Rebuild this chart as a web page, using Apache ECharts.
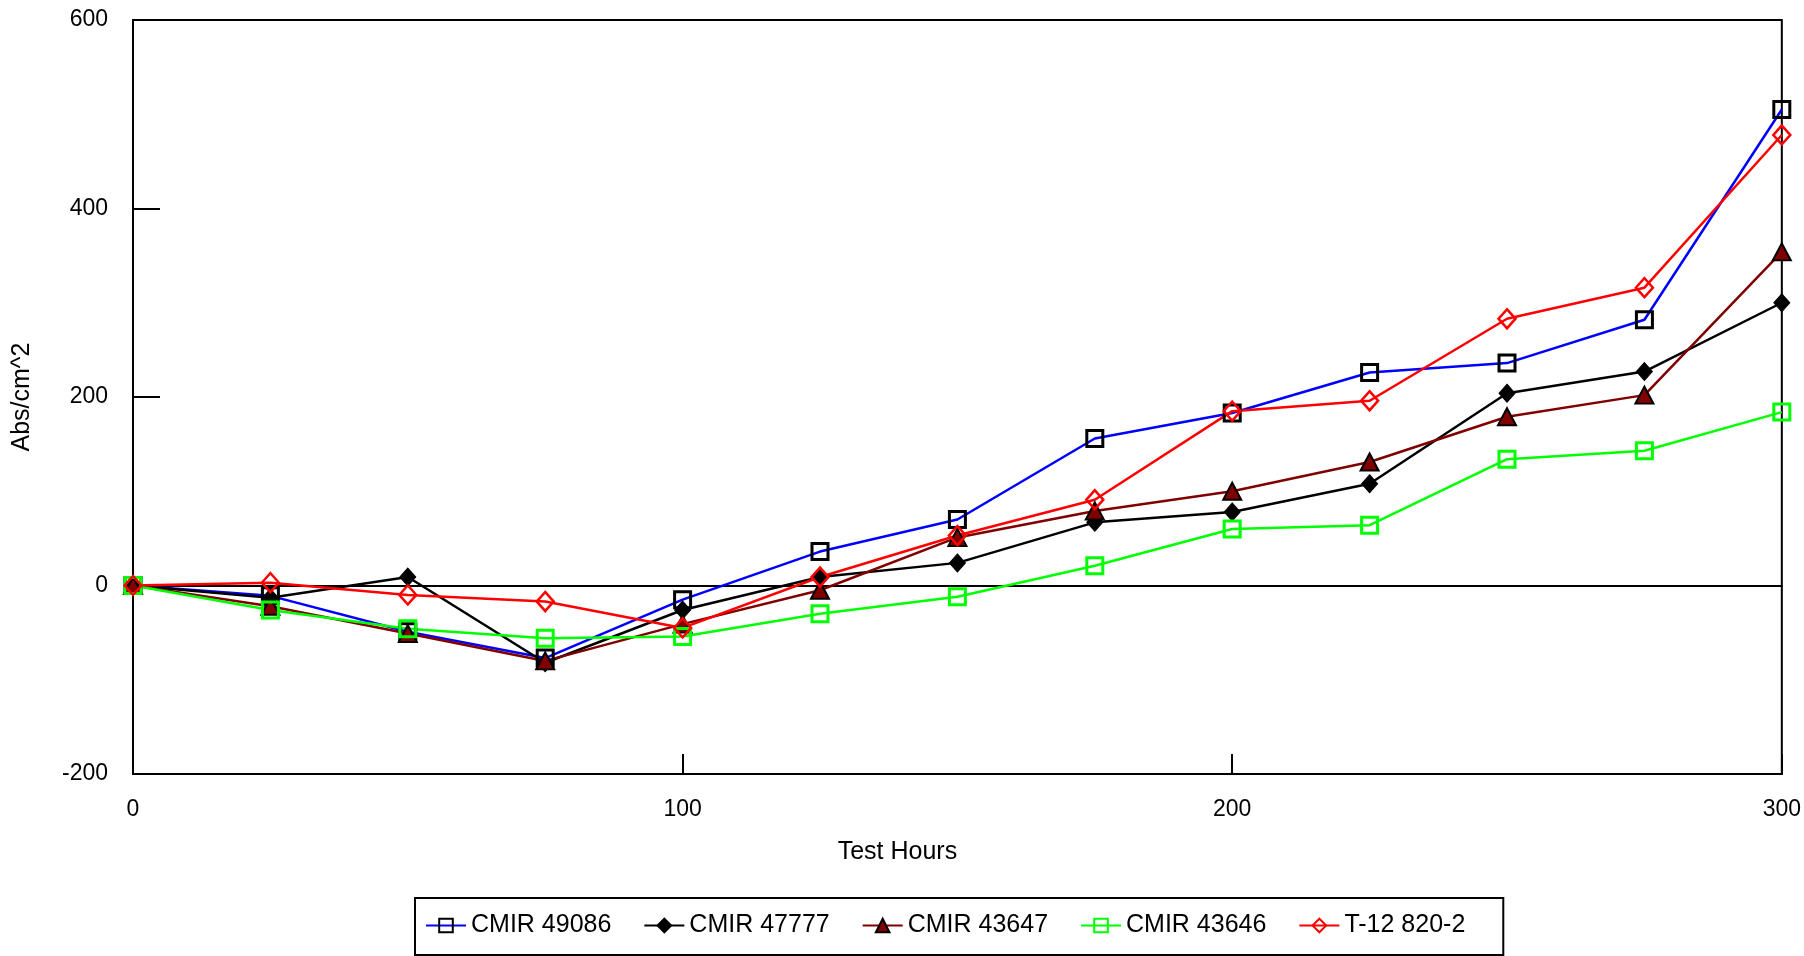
<!DOCTYPE html>
<html>
<head>
<meta charset="utf-8">
<script src="https://cdn.jsdelivr.net/npm/echarts@6/dist/echarts.min.js"></script>
<style>
  html, body { margin: 0; padding: 0; background: #fff; }
  #chart { width: 1804px; height: 956px; }
</style>
</head>
<body>
<div id="chart"></div>
<script>
// test hours (x values)
var hours = [0, 25, 50, 75, 100, 125, 150, 175, 200, 225, 250, 275, 300];

// Abs/cm^2
var cmir49086 = [0, -11, -49, -77, -15, 36, 70, 156, 183, 226, 236, 282, 505];
var cmir47777 = [0, -13, 9, -82, -26, 9, 24, 67, 78, 108, 204, 227, 300];
var cmir43647 = [0, -22, -51, -80, -41, -5, 51, 79, 100, 131, 179, 202, 354];
var cmir43646 = [0, -26, -46, -56, -54, -30, -12, 21, 60, 64, 134, 143, 184];
var t12_820_2 = [0, 3, -10, -17, -45, 9, 53, 91, 185, 196, 283, 316, 478];

function pairs(vals) {
    return hours.map(function (h, i) { return [h, vals[i]]; });
}

var font = 'Liberation Sans, Arial, sans-serif';
var myChart = echarts.init(document.getElementById('chart'));

myChart.setOption({
    animation: false,
    textStyle: { fontFamily: font },
    grid: {
        left: 133,
        right: 22,
        top: 20,
        bottom: 182,
        show: true,
        borderColor: '#000',
        borderWidth: 2
    },
    legend: {
        left: 415,
        top: 898,
        padding: [15, 38, 17, 10],
        borderColor: '#000',
        borderWidth: 2,
        itemWidth: 40,
        itemHeight: 17,
        itemGap: 32,
        textStyle: { fontSize: 25, color: '#000', fontFamily: font },
        data: ['CMIR 49086', 'CMIR 47777', 'CMIR 43647', 'CMIR 43646', 'T-12 820-2']
    },
    xAxis: [
        {
            type: 'value',
            min: 0,
            max: 300,
            interval: 100,
            name: 'Test Hours',
            nameLocation: 'middle',
            nameGap: 66,
            nameTextStyle: { fontSize: 25, color: '#000', padding: [0, 120, 0, 0] },
            axisLine: { onZero: false, lineStyle: { color: '#000', width: 2 } },
            axisTick: { inside: true, length: 20, lineStyle: { color: '#000', width: 2 } },
            axisLabel: { fontSize: 23, color: '#000', margin: 24 },
            splitLine: { show: false }
        },
        {
            // zero line
            type: 'value',
            min: 0,
            max: 300,
            position: 'bottom',
            axisLine: { onZero: true, lineStyle: { color: '#000', width: 2 } },
            axisTick: { show: false },
            axisLabel: { show: false },
            splitLine: { show: false }
        }
    ],
    yAxis: {
        type: 'value',
        min: -200,
        max: 600,
        interval: 200,
        name: 'Abs/cm^2',
        nameLocation: 'middle',
        nameGap: 98,
        nameTextStyle: { fontSize: 25, color: '#000' },
        axisLine: { lineStyle: { color: '#000', width: 2 } },
        axisTick: { inside: true, length: 27, lineStyle: { color: '#000', width: 2 } },
        axisLabel: { fontSize: 23, color: '#000', margin: 25 },
        splitLine: { show: false }
    },
    series: [
        {
            name: 'CMIR 49086',
            type: 'line',
            data: pairs(cmir49086),
            symbol: 'rect',
            symbolSize: 16,
            lineStyle: { color: '#0000ff', width: 2.5 },
            itemStyle: { color: 'transparent', borderColor: '#000', borderWidth: 3 }
        },
        {
            name: 'CMIR 47777',
            type: 'line',
            data: pairs(cmir47777),
            symbol: 'diamond',
            symbolSize: [16, 18],
            lineStyle: { color: '#000', width: 2.5 },
            itemStyle: { color: '#000', borderColor: '#000', borderWidth: 1 }
        },
        {
            name: 'CMIR 43647',
            type: 'line',
            data: pairs(cmir43647),
            symbol: 'triangle',
            symbolSize: [18, 17],
            lineStyle: { color: '#800000', width: 2.5 },
            itemStyle: { color: '#800000', borderColor: '#000', borderWidth: 2 }
        },
        {
            name: 'CMIR 43646',
            type: 'line',
            data: pairs(cmir43646),
            symbol: 'rect',
            symbolSize: 16,
            lineStyle: { color: '#00ff00', width: 2.5 },
            itemStyle: { color: 'transparent', borderColor: '#00ff00', borderWidth: 3 }
        },
        {
            name: 'T-12 820-2',
            type: 'line',
            data: pairs(t12_820_2),
            symbol: 'diamond',
            symbolSize: [17, 19],
            lineStyle: { color: '#ff0000', width: 2.5 },
            itemStyle: { color: 'transparent', borderColor: '#ff0000', borderWidth: 2.5 }
        }
    ]
});
</script>
</body>
</html>
